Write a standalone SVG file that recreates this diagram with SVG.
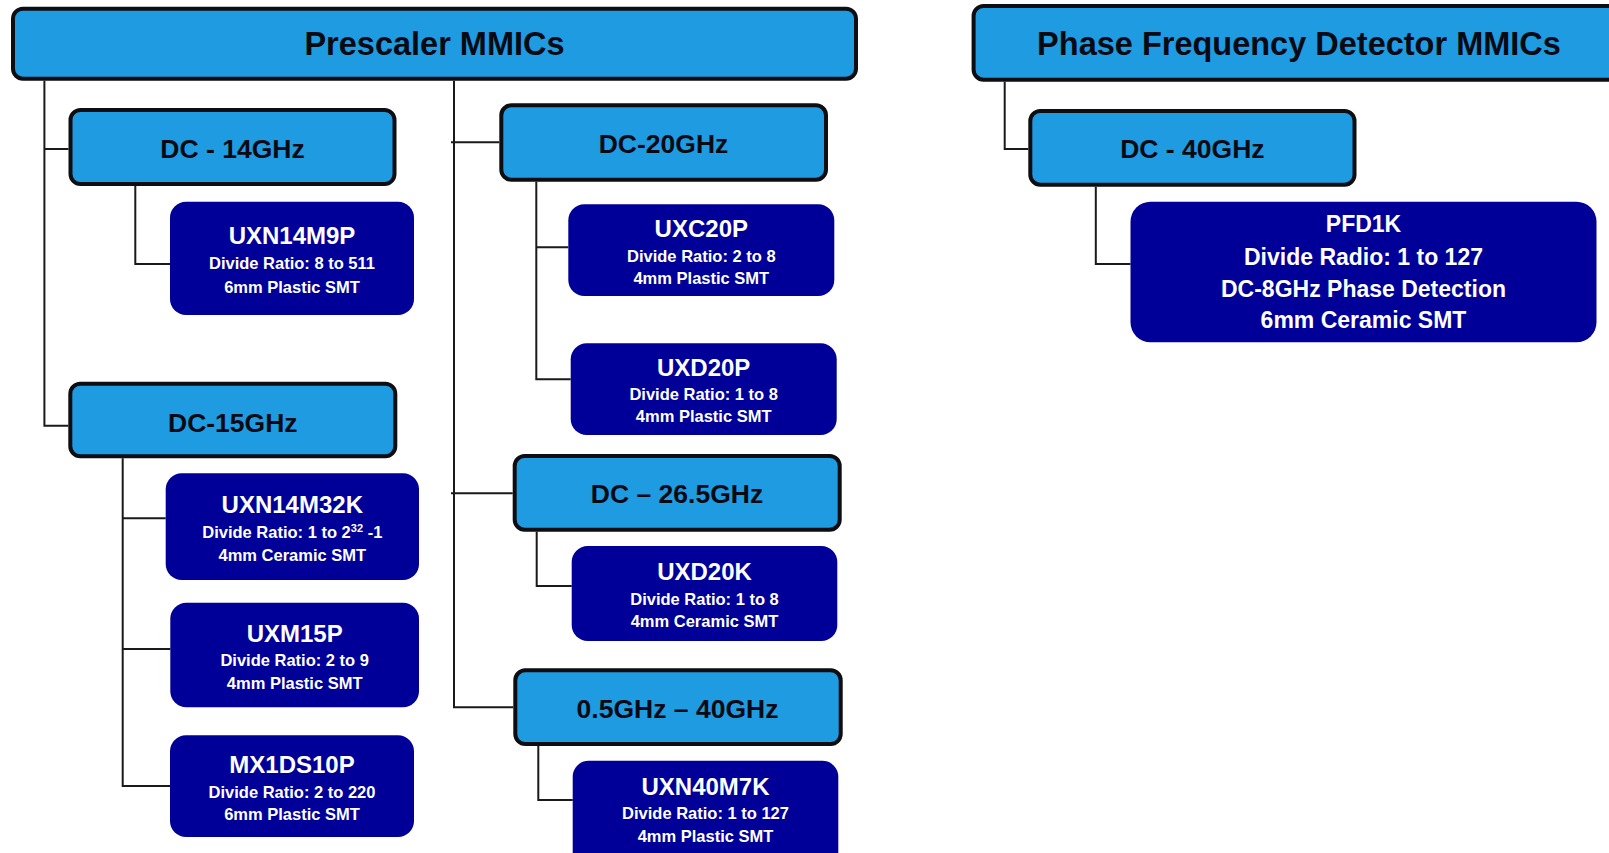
<svg xmlns="http://www.w3.org/2000/svg" width="1609" height="853" viewBox="0 0 1609 853">
<style>
.cat{fill:#1e9be1;stroke:#0d0d12;stroke-width:4}
.prod{fill:#000099}
.ct{font-family:"Liberation Sans",Arial,sans-serif;font-weight:bold;fill:#0a0a14;text-anchor:middle}
.t1{font-size:32.5px}
.t2{font-size:26.5px}
.pt{font-family:"Liberation Sans",Arial,sans-serif;font-weight:bold;fill:#ffffff;text-anchor:middle}
.pn{font-size:24px}
.pd{font-size:16.5px}
.pf{font-size:23px}
.conn path{fill:none;stroke:#1a1a1a;stroke-width:2}
</style>
<rect width="1609" height="853" fill="#ffffff"/>
<g class="conn" id="connectors">
<path d="M44.4 80.7 V425.7 H68.3"/>
<path d="M44.4 149 H68.5"/>
<path d="M454 80.7 V707.3 H513.3"/>
<path d="M451 142.3 H499.3"/>
<path d="M451 493.3 H512.7"/>
<path d="M135.3 186 V264 H170"/>
<path d="M122.7 458.3 V786 H170"/>
<path d="M122.7 518.3 H165.7"/>
<path d="M122.7 649 H170.3"/>
<path d="M536.3 181.7 V379.3 H570.7"/>
<path d="M536.3 247.3 H568.3"/>
<path d="M536.7 531.7 V586 H571.7"/>
<path d="M538.3 746 V800 H572.7"/>
<path d="M1004.7 81.7 V149 H1028.3"/>
<path d="M1095.8 186.7 V264 H1130.5"/>
</g>
<g id="prescaler">
<rect class="cat" x="13" y="8.7" width="843" height="70" rx="10"/>
<text class="ct t1" x="434.5" y="55">Prescaler MMICs</text>
</g>
<g id="dc14">
<rect class="cat" x="70.5" y="110" width="324" height="74" rx="10"/>
<text class="ct t2" x="232.5" y="158">DC - 14GHz</text>
</g>
<g id="dc20">
<rect class="cat" x="501.3" y="105.3" width="324.7" height="74.4" rx="10"/>
<text class="ct t2" x="663.5" y="152.7">DC-20GHz</text>
</g>
<g id="dc15">
<rect class="cat" x="70.3" y="383.7" width="325" height="72.6" rx="10"/>
<text class="ct t2" x="232.8" y="431.7">DC-15GHz</text>
</g>
<g id="dc265">
<rect class="cat" x="514.7" y="456" width="325" height="73.7" rx="10"/>
<text class="ct t2" x="677" y="503.3">DC – 26.5GHz</text>
</g>
<g id="dc05-40">
<rect class="cat" x="515.3" y="670.3" width="325.4" height="73.7" rx="10"/>
<text class="ct t2" x="677.5" y="718.3">0.5GHz – 40GHz</text>
</g>
<g id="pfd-mmics">
<rect class="cat" x="973.6" y="6" width="660" height="73.7" rx="10"/>
<text class="ct t1" x="1299" y="55">Phase Frequency Detector MMICs</text>
</g>
<g id="dc40">
<rect class="cat" x="1030.3" y="111" width="324.2" height="73.7" rx="10"/>
<text class="ct t2" x="1192.4" y="158.3">DC - 40GHz</text>
</g>
<g id="uxn14m9p">
<rect class="prod" x="170" y="201.7" width="244" height="113.3" rx="16"/>
<text class="pt pn" x="292" y="244.3">UXN14M9P</text>
<text class="pt pd" x="292" y="269.3">Divide Ratio: 8 to 511</text>
<text class="pt pd" x="292" y="292.7">6mm Plastic SMT</text>
</g>
<g id="uxn14m32k">
<rect class="prod" x="165.7" y="473.3" width="253.3" height="106.7" rx="16"/>
<text class="pt pn" x="292.3" y="513.3">UXN14M32K</text>
<text class="pt pd" x="292.3" y="537.7">Divide Ratio: 1 to 2<tspan font-size="11" dy="-6">32</tspan><tspan dy="6"> -1</tspan></text>
<text class="pt pd" x="292.3" y="560.7">4mm Ceramic SMT</text>
</g>
<g id="uxm15p">
<rect class="prod" x="170.3" y="602.7" width="248.7" height="104.6" rx="16"/>
<text class="pt pn" x="294.7" y="641.7">UXM15P</text>
<text class="pt pd" x="294.7" y="665.7">Divide Ratio: 2 to 9</text>
<text class="pt pd" x="294.7" y="689">4mm Plastic SMT</text>
</g>
<g id="mx1ds10p">
<rect class="prod" x="170" y="735.3" width="244" height="101.7" rx="16"/>
<text class="pt pn" x="292" y="772.7">MX1DS10P</text>
<text class="pt pd" x="292" y="797.7">Divide Ratio: 2 to 220</text>
<text class="pt pd" x="292" y="820">6mm Plastic SMT</text>
</g>
<g id="uxc20p">
<rect class="prod" x="568.3" y="204.3" width="266" height="91.7" rx="16"/>
<text class="pt pn" x="701.3" y="236.7">UXC20P</text>
<text class="pt pd" x="701.3" y="261.7">Divide Ratio: 2 to 8</text>
<text class="pt pd" x="701.3" y="284">4mm Plastic SMT</text>
</g>
<g id="uxd20p">
<rect class="prod" x="570.7" y="343.3" width="266" height="91.7" rx="16"/>
<text class="pt pn" x="703.7" y="375.7">UXD20P</text>
<text class="pt pd" x="703.7" y="400">Divide Ratio: 1 to 8</text>
<text class="pt pd" x="703.7" y="421.7">4mm Plastic SMT</text>
</g>
<g id="uxd20k">
<rect class="prod" x="571.7" y="546" width="265.6" height="95" rx="16"/>
<text class="pt pn" x="704.5" y="580">UXD20K</text>
<text class="pt pd" x="704.5" y="605">Divide Ratio: 1 to 8</text>
<text class="pt pd" x="704.5" y="627.3">4mm Ceramic SMT</text>
</g>
<g id="uxn40m7k">
<rect class="prod" x="572.7" y="760.7" width="265.6" height="120" rx="16"/>
<text class="pt pn" x="705.5" y="795">UXN40M7K</text>
<text class="pt pd" x="705.5" y="819.3">Divide Ratio: 1 to 127</text>
<text class="pt pd" x="705.5" y="841.7">4mm Plastic SMT</text>
</g>
<g id="pfd1k">
<rect class="prod" x="1130.5" y="201.7" width="466" height="140.6" rx="20"/>
<text class="pt pf" x="1363.5" y="232.3">PFD1K</text>
<text class="pt pf" x="1363.5" y="265">Divide Radio: 1 to 127</text>
<text class="pt pf" x="1363.5" y="296.7">DC-8GHz Phase Detection</text>
<text class="pt pf" x="1363.5" y="328.3">6mm Ceramic SMT</text>
</g>
</svg>
